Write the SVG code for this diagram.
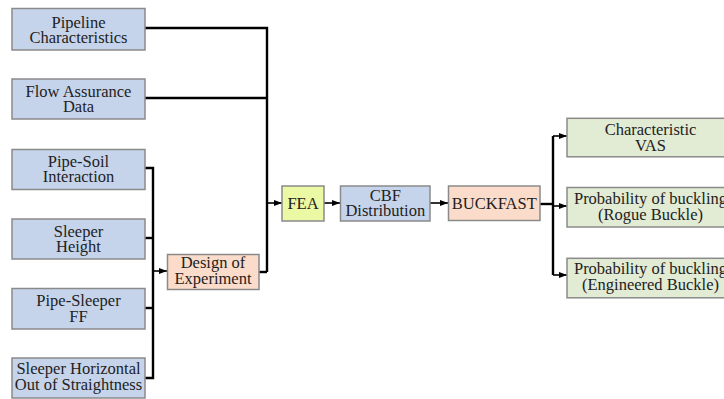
<svg xmlns="http://www.w3.org/2000/svg" width="724" height="399" viewBox="0 0 724 399">
<defs>
<marker id="ah" markerWidth="8" markerHeight="6" refX="8" refY="3" orient="auto" markerUnits="userSpaceOnUse">
<path d="M0,0 L8,3 L0,6 Z" fill="#000"/>
</marker>
<style>
.n rect{stroke:#8a8a8a;stroke-width:1.5}
.blue rect{fill:#c6d4eb}
.sal rect{fill:#fbdcca}
.yel rect{fill:#ebf8a4}
.grn rect{fill:#e2ebd4}
text{font-family:"Liberation Serif","Times New Roman",serif;font-size:16.5px;fill:#222;text-anchor:middle}
.c path{fill:none;stroke:#000;stroke-width:2.4}
.c .a{stroke-width:1.6}
</style>
</defs>
<g class="c" id="connectors">
<path d="M145,28 H267 V272"/>
<path d="M145,98 H267"/>
<path d="M259,272 H267"/>
<path class="a" d="M267,203 H282" marker-end="url(#ah)"/>
<path d="M145,168 H153 V378 H145"/>
<path d="M145,238 H153"/>
<path d="M145,308 H153"/>
<path class="a" d="M153,271 H167" marker-end="url(#ah)"/>
<path class="a" d="M324,203 H340" marker-end="url(#ah)"/>
<path class="a" d="M430,203 H448" marker-end="url(#ah)"/>
<path d="M540,204 H553"/>
<path d="M553,136 V275"/>
<path class="a" d="M553,136 H567" marker-end="url(#ah)"/>
<path class="a" d="M553,206 H567" marker-end="url(#ah)"/>
<path class="a" d="M553,275 H567" marker-end="url(#ah)"/>
</g>
<g id="pipeline" class="n blue"><rect x="12" y="8.5" width="133" height="41.5"/><text x="78.5" y="27.5">Pipeline</text><text x="78.5" y="43">Characteristics</text></g>
<g id="flow" class="n blue"><rect x="12" y="79" width="133" height="40"/><text x="78.5" y="96.5">Flow Assurance</text><text x="78.5" y="112">Data</text></g>
<g id="pipesoil" class="n blue"><rect x="12" y="149.5" width="133" height="40"/><text x="78.5" y="166.5">Pipe-Soil</text><text x="78.5" y="182">Interaction</text></g>
<g id="sleeperh" class="n blue"><rect x="12" y="219" width="133" height="40"/><text x="78.5" y="236.5">Sleeper</text><text x="78.5" y="252">Height</text></g>
<g id="pipesleeper" class="n blue"><rect x="12" y="288.5" width="133" height="40.5"/><text x="78.5" y="306">Pipe-Sleeper</text><text x="78.5" y="321.5">FF</text></g>
<g id="oos" class="n blue"><rect x="12" y="358" width="133" height="40"/><text x="78.5" y="374">Sleeper Horizontal</text><text x="78.5" y="389.5">Out of Straightness</text></g>
<g id="doe" class="n sal"><rect x="167.5" y="254.5" width="91.5" height="35"/><text x="213" y="268.3">Design of</text><text x="213" y="283.5">Experiment</text></g>
<g id="fea" class="n yel"><rect x="282" y="186" width="42" height="35"/><text x="303" y="209.3">FEA</text></g>
<g id="cbf" class="n blue"><rect x="340.5" y="186" width="89.5" height="35"/><text x="385.3" y="200.7">CBF</text><text x="385.3" y="216">Distribution</text></g>
<g id="buckfast" class="n sal"><rect x="448.5" y="186" width="91.5" height="34.5"/><text x="494.3" y="208.5">BUCKFAST</text></g>
<g id="vas" class="n grn"><rect x="567" y="118.3" width="168" height="38.5"/><text x="650.5" y="135">Characteristic</text><text x="650.5" y="150.5">VAS</text></g>
<g id="rogue" class="n grn"><rect x="567" y="187.5" width="168" height="39.5"/><text x="650.5" y="204">Probability of buckling</text><text x="650.5" y="219.5">(Rogue Buckle)</text></g>
<g id="eng" class="n grn"><rect x="567" y="258.3" width="168" height="39.5"/><text x="650.5" y="274.3">Probability of buckling</text><text x="650.5" y="289.5">(Engineered Buckle)</text></g>
</svg>
